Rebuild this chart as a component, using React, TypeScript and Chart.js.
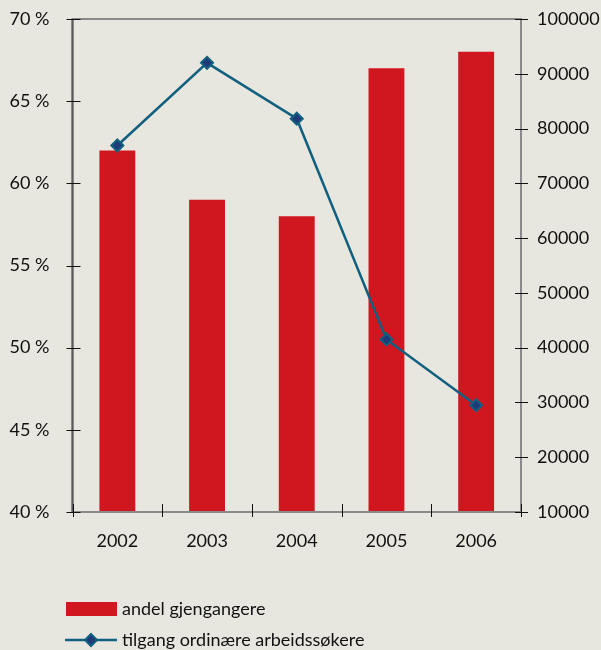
import React, { useEffect, useRef } from "react";
import { Chart, registerables } from "chart.js";

Chart.register(...registerables);

const years = ["2002", "2003", "2004", "2005", "2006"];
const andelGjengangere = [62, 59, 58, 67, 68];
const tilgangArbeidssokere = [76900, 92000, 81800, 41500, 29500];
const leftTicks = { min: 40, max: 70, step: 5 };
const rightTicks = { min: 10000, max: 100000, step: 10000 };

const BG = "#e7e6df";
const RED = "#d0171f";
const TEAL = "#12607f";
const NAVY = "#1e3a78";
const FONT = "Lato";
const TEXT = "#111";

const framePlugin = {
  id: "frame",
  afterDatasetsDraw(chart: any) {
    const { ctx, chartArea: a, scales } = chart;
    ctx.save();
    ctx.strokeStyle = "#8a8a8a";
    ctx.lineWidth = 2;
    ctx.strokeRect(a.left, a.top, a.right - a.left, a.bottom - a.top);
    ctx.strokeStyle = "#5a5a5a";
    ctx.beginPath();
    ctx.moveTo(a.left, a.top);
    ctx.lineTo(a.left, a.bottom);
    ctx.stroke();
    ctx.strokeStyle = "#111";
    ctx.lineWidth = 1;
    const y = scales.y;
    y.ticks.forEach((t: any) => {
      const py = Math.round(y.getPixelForValue(t.value)) + 0.5;
      ctx.beginPath();
      ctx.moveTo(a.left - 6, py);
      ctx.lineTo(a.left + 8, py);
      ctx.stroke();
    });
    const y1 = scales.y1;
    y1.ticks.forEach((t: any) => {
      const py = Math.round(y1.getPixelForValue(t.value)) + 0.5;
      ctx.beginPath();
      ctx.moveTo(a.right - 6, py);
      ctx.lineTo(a.right + 7, py);
      ctx.stroke();
    });
    const x = scales.x;
    for (let i = 0; i <= years.length; i++) {
      const px = Math.round(x.getPixelForValue(i - 0.5)) + 0.5;
      ctx.beginPath();
      ctx.moveTo(px, a.bottom - 8);
      ctx.lineTo(px, a.bottom + 5);
      ctx.stroke();
    }
    ctx.restore();
  },
  afterDraw(chart: any) {
    const { ctx } = chart;
    const ds = chart.data.datasets;
    ctx.save();
    ctx.font = `18px ${FONT}`;
    ctx.textBaseline = "middle";
    const bar = ds[1];
    ctx.fillStyle = bar.backgroundColor;
    ctx.fillRect(66, 602, 51, 14);
    ctx.fillStyle = TEXT;
    ctx.fillText(bar.label, 122, 609);
    const line = ds[0];
    ctx.strokeStyle = line.borderColor;
    ctx.lineWidth = 2.5;
    ctx.beginPath();
    ctx.moveTo(65, 640);
    ctx.lineTo(117, 640);
    ctx.stroke();
    ctx.fillStyle = line.pointBackgroundColor;
    ctx.lineWidth = 2;
    ctx.beginPath();
    const r = 6;
    ctx.moveTo(91, 640 - r);
    ctx.lineTo(91 + r, 640);
    ctx.lineTo(91, 640 + r);
    ctx.lineTo(91 - r, 640);
    ctx.closePath();
    ctx.fill();
    ctx.stroke();
    ctx.fillStyle = TEXT;
    ctx.fillText(line.label, 122, 640);
    ctx.restore();
  },
};

export default function App() {
  const ref = useRef<HTMLCanvasElement>(null);
  useEffect(() => {
    document.body.style.margin = "0";
    const chart = new Chart(ref.current!, {
      type: "bar",
      data: {
        labels: years,
        datasets: [
          {
            type: "line",
            label: "tilgang ordinære arbeidssøkere",
            data: tilgangArbeidssokere,
            yAxisID: "y1",
            borderColor: TEAL,
            borderWidth: 2.5,
            pointStyle: "rectRot",
            pointRadius: 6,
            pointBorderWidth: 2,
            pointBackgroundColor: NAVY,
            pointBorderColor: TEAL,
            tension: 0,
            order: 0,
          } as any,
          {
            type: "bar",
            label: "andel gjengangere",
            data: andelGjengangere,
            yAxisID: "y",
            backgroundColor: RED,
            barPercentage: 0.4,
            categoryPercentage: 1,
            order: 1,
          },
        ],
      },
      options: {
        animation: false,
        responsive: false,
        devicePixelRatio: 1,
        layout: { padding: { top: 19, bottom: 0, left: 0, right: 0 } },
        plugins: { legend: { display: false }, tooltip: { enabled: false } },
        scales: {
          x: {
            offset: true,
            grid: { display: false, drawTicks: false },
            border: { display: false },
            ticks: { font: { family: FONT, size: 18 }, color: TEXT, padding: 18 },
            afterFit(s: any) {
              s.height = 138;
            },
          },
          y: {
            position: "left",
            min: leftTicks.min,
            max: leftTicks.max,
            grid: { display: false, drawTicks: false },
            border: { display: false },
            ticks: {
              stepSize: leftTicks.step,
              font: { family: FONT, size: 18 },
              color: TEXT,
              padding: 23,
              callback: (v: any) => `${v} %`,
            },
            afterFit(s: any) {
              s.width = 72.5;
              s.paddingTop = 0;
              s.paddingBottom = 0;
            },
          },
          y1: {
            position: "right",
            min: rightTicks.min,
            max: rightTicks.max,
            grid: { display: false, drawTicks: false },
            border: { display: false },
            ticks: {
              stepSize: rightTicks.step,
              font: { family: FONT, size: 18 },
              color: TEXT,
              padding: 16,
              callback: (v: any) => `${v}`,
            },
            afterFit(s: any) {
              s.width = 80;
              s.paddingTop = 0;
              s.paddingBottom = 0;
            },
          },
        },
      },
      plugins: [framePlugin],
    });
    return () => chart.destroy();
  }, []);
  return (
    <div style={{ width: 601, height: 650, background: BG, position: "absolute", left: 0, top: 0 }}>
      <canvas ref={ref} width={601} height={650} />
    </div>
  );
}
